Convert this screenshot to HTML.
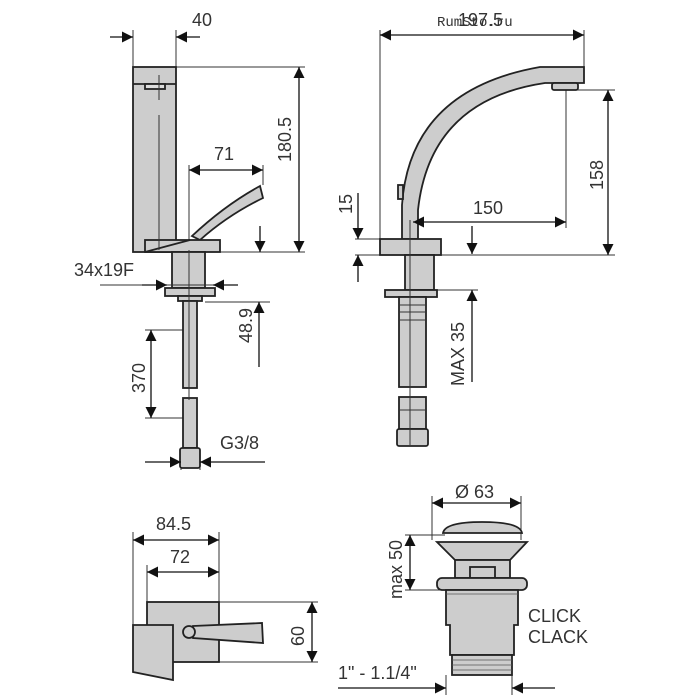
<!DOCTYPE html><html><head><style>body{margin:0;background:#fff}svg{display:block}text{font-family:"Liberation Sans",sans-serif;fill:#333;font-size:18px}</style></head><body>
<svg width="700" height="700" viewBox="0 0 700 700" xmlns="http://www.w3.org/2000/svg">
<defs><marker id="a" viewBox="0 0 10 10" refX="10" refY="5" markerWidth="17" markerHeight="11" markerUnits="userSpaceOnUse" orient="auto-start-reverse"><path d="M0,0L10,5L0,10z" fill="#111"/></marker></defs>
<g stroke="#333" stroke-width="1" fill="none">
<line x1="133" y1="30" x2="133" y2="67"/><line x1="176" y1="30" x2="176" y2="67"/>
<line x1="176" y1="67" x2="305" y2="67"/><line x1="220" y1="252" x2="305" y2="252"/>
<line x1="189" y1="165" x2="189" y2="245"/><line x1="263" y1="165" x2="263" y2="185"/>
<line x1="205" y1="302" x2="270" y2="302"/>
<line x1="145" y1="330" x2="185" y2="330"/><line x1="145" y1="418" x2="185" y2="418"/>
<line x1="181" y1="450" x2="181" y2="470"/><line x1="200" y1="450" x2="200" y2="470"/>
</g>
<g stroke="#222" stroke-width="1.8" fill="#cdcdcd">
<rect x="133" y="67" width="43" height="185"/><line x1="133" y1="84" x2="176" y2="84"/>
<rect x="145" y="84" width="20" height="5" fill="#ddd"/>
<path d="M192,236 Q225,205 260,186 L263,198 Q228,215 200,240 Z"/>
<rect x="145" y="240" width="75" height="12"/>
<line x1="145" y1="252" x2="190" y2="240"/>
<rect x="172" y="252" width="33" height="36"/>
<rect x="165" y="288" width="50" height="8"/><rect x="178" y="296" width="24" height="5"/>
<rect x="183" y="301" width="14" height="87"/><rect x="183" y="398" width="14" height="50"/>
<rect x="180" y="448" width="20" height="20" rx="2"/>
</g>
<g stroke="#333" stroke-width="1" fill="none">
<line x1="159" y1="75" x2="159" y2="100"/><line x1="159" y1="115" x2="159" y2="250"/><line x1="189" y1="250" x2="189" y2="400"/>
<line x1="100" y1="285" x2="235" y2="285"/>
</g>
<g stroke="#111" stroke-width="1.3" fill="none">
<line x1="110" y1="37" x2="133" y2="37" marker-end="url(#a)"/><line x1="200" y1="37" x2="176" y2="37" marker-end="url(#a)"/>
<line x1="299" y1="67" x2="299" y2="252" marker-start="url(#a)" marker-end="url(#a)"/>
<line x1="189" y1="170" x2="263" y2="170" marker-start="url(#a)" marker-end="url(#a)"/>
<line x1="260" y1="226" x2="260" y2="252" marker-end="url(#a)"/>
<line x1="142" y1="285" x2="167" y2="285" marker-end="url(#a)"/><line x1="238" y1="285" x2="213" y2="285" marker-end="url(#a)"/>
<line x1="259" y1="367" x2="259" y2="302" marker-end="url(#a)"/>
<line x1="151" y1="330" x2="151" y2="418" marker-start="url(#a)" marker-end="url(#a)"/>
<line x1="145" y1="462" x2="181" y2="462" marker-end="url(#a)"/><line x1="265" y1="462" x2="200" y2="462" marker-end="url(#a)"/>
</g>
<text x="192" y="26">40</text>
<text transform="translate(291,162) rotate(-90)">180.5</text>
<text x="214" y="160">71</text>
<text x="74" y="276">34x19F</text>
<text transform="translate(252,343) rotate(-90)">48.9</text>
<text transform="translate(145,393) rotate(-90)">370</text>
<text x="220" y="449">G3/8</text>
<!-- right faucet -->
<g stroke="#333" stroke-width="1" fill="none">
<line x1="380" y1="30" x2="380" y2="239"/><line x1="584" y1="30" x2="584" y2="67"/>
<line x1="555" y1="90" x2="615" y2="90"/><line x1="355" y1="255" x2="615" y2="255"/>
<line x1="566" y1="78" x2="566" y2="228"/><line x1="355" y1="239" x2="380" y2="239"/>
<line x1="437" y1="290" x2="478" y2="290"/>
</g>
<g stroke="#222" stroke-width="1.8" fill="#cdcdcd">
<path d="M402,239 L402,205 Q410,90 540,67 L584,67 L584,83 L545,83 Q430,100 418,210 L418,239 Z"/>
<rect x="552" y="83" width="26" height="7" rx="2"/>
<rect x="398" y="185" width="5" height="14"/>
<rect x="380" y="239" width="61" height="16"/>
<rect x="405" y="255" width="29" height="35"/>
<rect x="385" y="290" width="52" height="7"/>
<rect x="399" y="297" width="27" height="90"/><rect x="399" y="397" width="27" height="32"/>
<rect x="397" y="429" width="31" height="17" rx="2"/>
</g>
<g stroke="#333" stroke-width="1" fill="none">
<line x1="410" y1="220" x2="410" y2="445"/><line x1="399" y1="305" x2="426" y2="305"/><line x1="399" y1="312" x2="426" y2="312"/><line x1="399" y1="320" x2="426" y2="320"/><line x1="399" y1="410" x2="426" y2="410"/>
</g>
<g stroke="#111" stroke-width="1.3" fill="none">
<line x1="380" y1="35" x2="584" y2="35" marker-start="url(#a)" marker-end="url(#a)"/>
<line x1="608" y1="90" x2="608" y2="255" marker-start="url(#a)" marker-end="url(#a)"/>
<line x1="413" y1="222" x2="566" y2="222" marker-start="url(#a)" marker-end="url(#a)"/>
<line x1="358" y1="193" x2="358" y2="239" marker-end="url(#a)"/><line x1="358" y1="282" x2="358" y2="255" marker-end="url(#a)"/>
<line x1="472" y1="226" x2="472" y2="254" marker-end="url(#a)"/>
<line x1="472" y1="382" x2="472" y2="290" marker-end="url(#a)"/>
</g>
<text x="458" y="26">197.5</text><text x="437" y="26" style="font-family:'Liberation Mono',monospace;font-size:14px">RumSto.ru</text>
<text transform="translate(603,190) rotate(-90)">158</text>
<text x="473" y="214">150</text>
<text transform="translate(352,214) rotate(-90)">15</text>
<text transform="translate(464,386) rotate(-90)">MAX 35</text>
<!-- bottom left -->
<g stroke="#333" stroke-width="1" fill="none">
<line x1="133" y1="532" x2="133" y2="625"/><line x1="219" y1="532" x2="219" y2="602"/><line x1="147" y1="565" x2="147" y2="602"/>
<line x1="219" y1="602" x2="318" y2="602"/><line x1="219" y1="662" x2="318" y2="662"/>
</g>
<g stroke="#222" stroke-width="1.8" fill="#cdcdcd">
<rect x="147" y="602" width="72" height="60"/>
<path d="M133,625 L173,625 L173,680 L133,672 Z"/>
<path d="M193,626 L262,623 L263,643 L193,638 Z"/>
<circle cx="189" cy="632" r="6"/>
</g>
<g stroke="#111" stroke-width="1.3" fill="none">
<line x1="133" y1="540" x2="219" y2="540" marker-start="url(#a)" marker-end="url(#a)"/>
<line x1="147" y1="572" x2="219" y2="572" marker-start="url(#a)" marker-end="url(#a)"/>
<line x1="312" y1="602" x2="312" y2="662" marker-start="url(#a)" marker-end="url(#a)"/>
</g>
<text x="156" y="530">84.5</text><text x="170" y="563">72</text>
<text transform="translate(304,646) rotate(-90)">60</text>
<!-- drain -->
<g stroke="#333" stroke-width="1" fill="none">
<line x1="432" y1="496" x2="432" y2="540"/><line x1="521" y1="496" x2="521" y2="540"/>
<line x1="405" y1="535" x2="445" y2="535"/><line x1="405" y1="590" x2="445" y2="590"/>
<line x1="446" y1="675" x2="446" y2="695"/><line x1="512" y1="675" x2="512" y2="695"/>
</g>
<g stroke="#222" stroke-width="1.8" fill="#cdcdcd">
<path d="M443,533 Q445,522 482,522 Q520,522 522,533 Z"/>
<path d="M437,542 L527,542 L510,560 L455,560 Z"/>
<rect x="455" y="560" width="55" height="18"/><rect x="470" y="567" width="25" height="11"/>
<rect x="437" y="578" width="90" height="12" rx="5"/>
<path d="M446,590 L518,590 L518,625 L514,625 L514,655 L450,655 L450,625 L446,625 Z"/>
<rect x="452" y="655" width="60" height="20"/>
</g>
<g stroke="#555" stroke-width="0.8"><line x1="452" y1="660" x2="512" y2="660"/><line x1="452" y1="665" x2="512" y2="665"/><line x1="452" y1="670" x2="512" y2="670"/><line x1="446" y1="594" x2="518" y2="594"/></g>
<g stroke="#111" stroke-width="1.3" fill="none">
<line x1="432" y1="503" x2="521" y2="503" marker-start="url(#a)" marker-end="url(#a)"/>
<line x1="410" y1="535" x2="410" y2="590" marker-start="url(#a)" marker-end="url(#a)"/>
<line x1="338" y1="688" x2="446" y2="688" marker-end="url(#a)"/><line x1="555" y1="688" x2="512" y2="688" marker-end="url(#a)"/>
</g>
<text x="455" y="498">Ø 63</text>
<text transform="translate(402,599) rotate(-90)">max 50</text>
<text x="528" y="622">CLICK</text><text x="528" y="643">CLACK</text>
<text x="338" y="679">1" - 1.1/4"</text>
</svg></body></html>
